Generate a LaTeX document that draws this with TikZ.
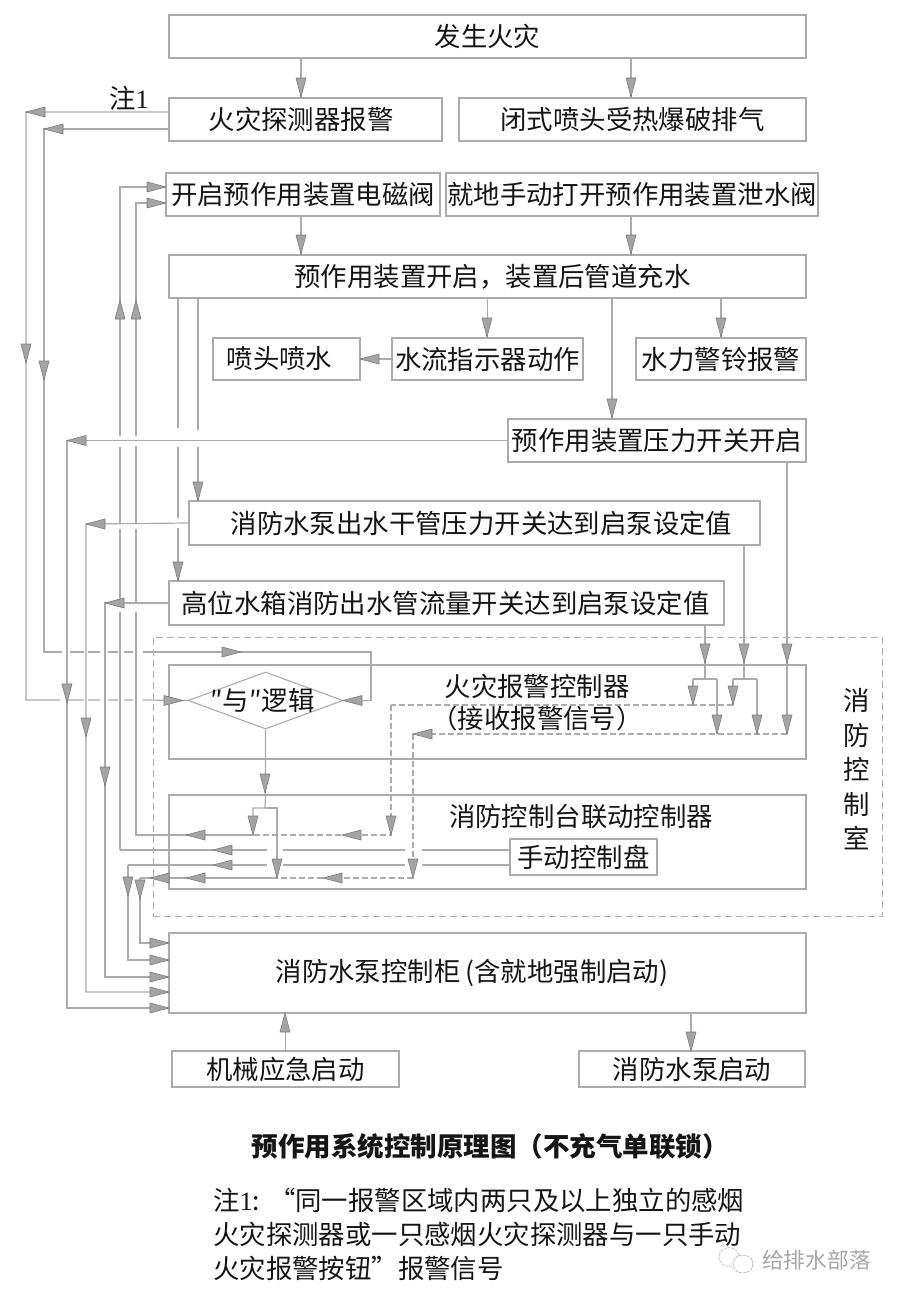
\documentclass[tikz,border=0pt]{standalone}
\usepackage{fontspec}
\setmainfont{Noto Sans CJK SC}
\newfontfamily\lat{Liberation Serif}
\usetikzlibrary{shapes.geometric}
\definecolor{wirec}{HTML}{ABABAB}
\definecolor{headc}{HTML}{A4A4A4}
\definecolor{heade}{HTML}{7A7A7A}
\definecolor{inkc}{HTML}{151515}
\newcommand\hdL[2]{\draw[headst] (#1,#2) -- ++(19,-5) -- ++(0,10) -- cycle;}
\newcommand\hdR[2]{\draw[headst] (#1,#2) -- ++(-19,-5) -- ++(0,10) -- cycle;}
\newcommand\hdD[2]{\draw[headst] (#1,#2) -- ++(-5,-19) -- ++(10,0) -- cycle;}
\newcommand\hdU[2]{\draw[headst] (#1,#2) -- ++(-5,19) -- ++(10,0) -- cycle;}
\begin{document}
\begin{tikzpicture}[x=1pt,y=-1pt,
  headst/.style={fill=headc,draw=heade,line width=0.6pt},
  wire/.style={draw=wirec,line width=1.2pt},
  dwire/.style={draw=wirec,line width=1.2pt,dash pattern=on 6pt off 3pt},
  box/.style={draw=wirec,line width=1.4pt,inner sep=0pt,text=inkc,font=\fontsize{26.4}{34.5}\selectfont,align=center},
  plain/.style={inner sep=0pt,text=inkc,font=\fontsize{26.4}{34.5}\selectfont,align=center}]
\path[use as bounding box,fill=white] (0,0) rectangle (900,1300);
% boxes
\node[box,minimum width=637pt,minimum height=43pt] (fire) at (487.5,36.5) {发生火灾};
\node[box,minimum width=273pt,minimum height=43pt] (det) at (305.5,119.5) {火灾探测器报警\kern9pt};
\node[box,minimum width=347pt,minimum height=43pt] (head) at (632.5,119.5) {闭式喷头受热爆破排气};
\node[box,minimum width=274pt,minimum height=43pt] (sol) at (303,194.5) {开启预作用装置电磁阀};
\node[box,minimum width=372pt,minimum height=43pt] (man) at (632,194.5) {就地手动打开预作用装置泄水阀};
\node[box,minimum width=637pt,minimum height=43pt] (pre) at (487.5,276.5) {\kern10pt预作用装置开启，装置后管道充水};
\node[box,minimum width=147pt,minimum height=42pt] (spray) at (286.5,359) {喷头喷水\kern14pt};
\node[box,minimum width=191pt,minimum height=42pt] (flow) at (487.5,359) {水流指示器动作};
\node[box,minimum width=170pt,minimum height=42pt] (bell) at (721,359) {水力警铃报警};
\node[box,minimum width=298pt,minimum height=43pt] (psw) at (657,440.5) {预作用装置压力开关开启};
\node[box,minimum width=571pt,minimum height=44pt] (main) at (474.5,523) {\kern14pt消防水泵出水干管压力开关达到启泵设定值};
\node[box,minimum width=555pt,minimum height=44pt] (tank) at (446.5,603) {高位水箱消防出水管流量开关达到启泵设定值\kern2pt};
\node[draw=wirec,line width=1pt,dash pattern=on 7pt off 4pt,inner sep=0pt,minimum width=729pt,minimum height=279pt] (room) at (517.5,776.5) {};
\node[box,minimum width=637pt,minimum height=94pt] (alarm) at (487.5,712) {};
\node[box,minimum width=637pt,minimum height=94pt] (link) at (487.5,842) {};
\node[box,minimum width=147pt,minimum height=36pt,line width=1.1pt] (panel) at (583.5,857) {手动控制盘};
\node[box,minimum width=637pt,minimum height=80pt] (cab) at (487.5,973) {消防水泵控制柜\kern5pt(含就地强制启动)\kern5pt\kern26pt};
\node[box,minimum width=227pt,minimum height=36pt] (mech) at (285.5,1069) {机械应急启动};
\node[box,minimum width=226pt,minimum height=36pt] (pump) at (692,1069) {消防水泵启动};
\node[diamond,draw=wirec,line width=1.1pt,inner sep=0pt,minimum width=155pt,minimum height=57pt,
  label={[plain]center:″与″逻辑\kern6pt}] (and) at (265.5,700.5) {};
% texts
\node[plain] (t1) at (537,686) {火灾报警控制器};
\node[plain] (t2) at (537,718) {（接收报警信号）};
\node[plain] (t3) at (581,817) {消防控制台联动控制器};
\node[plain,text width=30pt] (t4) at (857,769.5) {消\\防\\控\\制\\室};
\node[plain] (t5) at (129,98) {注{\lat 1}};
\node[plain,font=\fontsize{26.5}{30}\bfseries\selectfont] (cap) at (490,1146) {预作用系统控制原理图（不充气单联锁）};
\node[plain,align=left,anchor=west,font=\fontsize{26.4}{34}\selectfont] (note) at (213,1234) {注{\lat 1}:\kern9pt“同一报警区域内两只及以上独立的感烟\\火灾探测器或一只感烟火灾探测器与一只手动\\火灾报警按钮”报警信号};
% watermark
\draw[gray!45,line width=0.8pt,dash pattern=on 3pt off 1pt] (729,1257) ellipse [x radius=10,y radius=9.5];
\draw[gray!55,fill=white,line width=0.8pt,dash pattern=on 3pt off 1pt] (743,1264) ellipse [x radius=10,y radius=9];
\node[inner sep=0pt,text=gray!70,font=\fontsize{21.8}{24}\selectfont] (wm) at (816.5,1260) {给排水部落};
% coordinates
\coordinate (a1) at (26,112); \coordinate (a2) at (26,700);
\coordinate (b1) at (44,129); \coordinate (b2) at (44,652); \coordinate (b3) at (371,652); \coordinate (b4) at (371,700.5);
\coordinate (c1) at (120,187); \coordinate (c2) at (120,850);
\coordinate (d1) at (136,203); \coordinate (d2) at (136,835);
\coordinate (e1) at (67,440.5); \coordinate (e2) at (67,1008);
\coordinate (f1) at (86,524); \coordinate (f2) at (86,992);
\coordinate (g1) at (105,603); \coordinate (g2) at (105,977);
\coordinate (h1) at (128,865); \coordinate (h2) at (128,960);
\coordinate (i1) at (140,878); \coordinate (i2) at (140,943);
\coordinate (j1) at (265,808); \coordinate (j2) at (253,808); \coordinate (j3) at (277,808);
\coordinate (j4) at (253,835); \coordinate (j5) at (277,878);
\coordinate (k1) at (391,705); \coordinate (k2) at (391,835);
\coordinate (l1) at (413,734); \coordinate (l2) at (413,878);
\coordinate (m1) at (705,679); \coordinate (m2) at (693,679); \coordinate (m3) at (717,679);
\coordinate (n1) at (744,679); \coordinate (n2) at (733,679); \coordinate (n3) at (757,679);
\coordinate (m4) at (693,705); \coordinate (m5) at (717,734); \coordinate (n4) at (733,705); \coordinate (n5) at (757,734);
\coordinate (o1) at (787,734);
% top connectors
\draw[wire] (fire.south -| 301,0) -- (det.north -| 301,0);
\draw[wire] (fire.south -| 631,0) -- (head.north -| 631,0);
\draw[wire] (sol.south -| 301,0) -- (pre.north -| 301,0);
\draw[wire] (man.south -| 631,0) -- (pre.north -| 631,0);
\draw[wire] (pre.south -| flow.north) -- (flow.north);
\draw[wire] (pre.south -| bell.north) -- (bell.north);
\draw[wire] (pre.south -| 612,0) -- (psw.north -| 612,0);
\draw[wire] (flow.west) -- (spray.east);
% left detector lines
\draw[wire] (det.west |- a1) -- (a1) -- (a2) -- (60,700) (68,700) -- (84,700) (88,700) -- (100,700) (108,700) -- (118,700) (124,700) -- (133,700) (143,700) -- (and.west);
\draw[wire] (det.west |- b1) -- (b1) -- (b2) -- (62,652) (70,652) -- (84,652) (88,652) -- (100,652) (108,652) -- (118,652) (124,652) -- (133,652) (143,652) -- (b3) -- (b4) -- (and.east);
% to solenoid valve
\draw[wire] (sol.west |- c1) -- (c1) -- (120,436) (120,447) -- (120,524) (120,529) -- (120,603) (120,612) -- (c2);
\draw[wire] (sol.west |- d1) -- (d1) -- (136,436) (136,446) -- (136,524) (136,529) -- (136,603) (136,612) -- (d2) -- (j4);
% drops from pre box
\draw[wire] (pre.south -| 178,0) -- (178,428) (178,447) -- (178,518) (178,528) -- (tank.north -| 178,0);
\draw[wire] (pre.south -| 198,0) -- (198,430) (198,447) -- (main.north -| 198,0);
% feedback
\draw[wire] (psw.west) -- (e1) -- (e2) -- (cab.west |- e2);
\draw[wire] (main.west) -- (f1) -- (f2) -- (cab.west |- f2);
\draw[wire] (tank.west) -- (g1) -- (g2) -- (cab.west |- g2);
% console
\draw[wire] (c2) -- (267,850) (283,850) -- (405,850) (422,850) -- (panel.west |- c2);
\draw[wire] (h1) -- (267,865) (283,865) -- (405,865) (422,865) -- (panel.west |- h1);
\draw[wire] (h1) -- (h2) -- (cab.west |- h2);
\draw[wire,line width=1.7pt] (j5) -- (i1);
\draw[wire] (i1) -- (i2) -- (cab.west |- i2);
\draw[wire] (and.south) -- (link.north -| and.south) -- (j1) -- (j2) -- (j4);
\draw[wire] (j1) -- (j3) -- (j5);
\draw[dwire] (k1) -- (k2) -- (j4);
\draw[dwire] (l1) -- (l2) -- (j5);
\draw[dwire] (m4) -- (k1);
\draw[dwire] (n4) -- (m4);
\draw[dwire] (o1) -- (l1);
% alarm inputs
\draw[wire] (tank.south -| m1) -- (m1);
\draw[wire] (m2) -- (m3);
\draw[wire] (m2) -- (m4); \draw[wire] (m3) -- (m5);
\draw[wire] (main.south -| n1) -- (n1);
\draw[wire] (n2) -- (n3);
\draw[wire] (n2) -- (n4); \draw[wire] (n3) -- (n5);
\draw[wire] (psw.south -| o1) -- (o1);
% mechanical + pump
\draw[wire] (mech.north) -- (cab.south -| mech.north);
\draw[wire] (cab.south -| 691,0) -- (pump.north -| 691,0);
% heads
\hdD{301}{97}\hdD{631}{97}\hdD{301}{254}\hdD{631}{254}
\hdD{487}{337}\hdD{721}{337}\hdD{612}{418}\hdL{360}{359}
\hdL{26}{112}\hdL{44}{129}\hdD{26}{363}\hdD{44}{380}
\hdR{166}{187}\hdR{166}{203}\hdU{120}{300}\hdU{136}{300}
\hdL{67}{440.5}\hdD{67}{703}\hdL{86}{524}\hdD{86}{737}\hdL{105}{603}\hdD{105}{786}
\hdD{198}{501}\hdD{178}{581}
\hdR{241}{652}\hdR{183}{700.5}\hdL{343}{700.5}
\hdD{265}{793}\hdD{253}{835}\hdD{277}{878}
\hdL{186}{835}\hdL{342}{835}\hdL{213}{850}\hdL{213}{865}
\hdL{186}{878}\hdL{150}{878}\hdL{323}{878}
\hdD{391}{835}\hdD{413}{878}\hdL{413}{734}
\hdD{128}{896}\hdD{140}{899}
\hdR{169}{943}\hdR{169}{960}\hdR{169}{977}\hdR{169}{992}\hdR{169}{1008}
\hdD{705}{663}\hdD{744}{663}\hdD{787}{663}
\hdD{693}{705}\hdD{717}{734}\hdD{733}{705}\hdD{757}{734}\hdD{787}{734}
\hdU{285}{1013}\hdD{691}{1051}
\end{tikzpicture}
\end{document}
